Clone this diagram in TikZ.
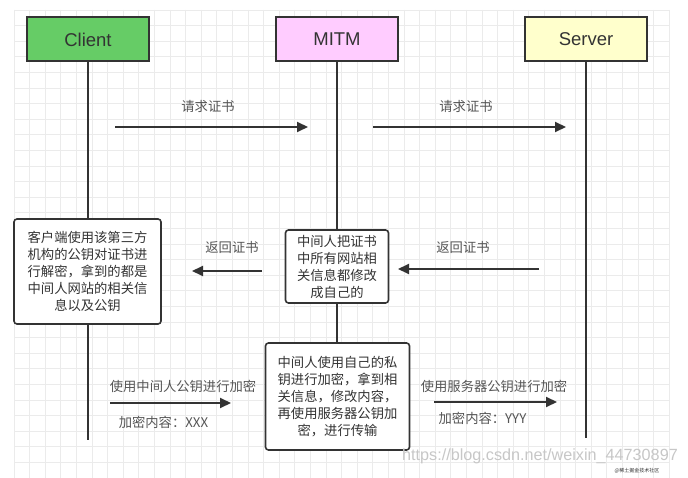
\documentclass[tikz,border=0pt]{standalone}
\usepackage{fontspec}
\setmainfont{Liberation Sans}
\newfontfamily\cjk{Noto Sans CJK SC}
\usetikzlibrary{arrows.meta}

\definecolor{clientgreen}{HTML}{66CC66}
\definecolor{mitmpink}{HTML}{FFCCFF}
\definecolor{serveryellow}{HTML}{FFFFCC}
\definecolor{ink}{HTML}{333333}
\definecolor{labelgray}{HTML}{555555}
\definecolor{gridgray}{HTML}{EBEBEB}

\tikzset{
  gridline/.style={draw=gridgray, line width=0.7pt},
  actor/.style={draw=ink, line width=2pt, minimum width=122pt, minimum height=44pt,
    inner sep=0pt, text=ink, font=\fontsize{18.5}{20}\selectfont},
  note/.style={draw=ink, line width=1.6pt, rounded corners=3pt, fill=white, align=center,
    inner sep=2pt, text=ink, font=\cjk\fontsize{13.3}{17}\selectfont},
  life/.style={draw=ink, line width=2.4pt},
  msg/.style={draw=ink, line width=2pt, -{Triangle[length=11pt,width=10pt]}},
  lbl/.style={text=labelgray, inner sep=0pt, font=\cjk\fontsize{13.3}{15}\selectfont},
}

\begin{document}
\begin{tikzpicture}[x=1pt,y=-1pt]
  \useasboundingbox[fill=white] (0,0) rectangle (688,478);

  \foreach \i in {0,...,42}
    \draw[gridline] (14+15.6*\i,10) -- (14+15.6*\i,478);
  \foreach \j in {0,...,30}
    \draw[gridline] (14,10+15.6*\j) -- (669,10+15.6*\j);

  \node[actor, fill=clientgreen] (client) at (88,39.5) {Client};
  \node[actor, fill=mitmpink] (mitm) at (337,39.5) {MITM};
  \node[actor, fill=serveryellow] (server) at (586,39.5) {Server};

  \coordinate (client end) at (88,440);
  \coordinate (mitm end) at (337,343);
  \coordinate (server end) at (586,438);

  \draw[life] (client) -- (client end);
  \draw[life] (mitm) -- (mitm end);
  \draw[life] (server) -- (server end);

  \node[note, minimum width=147pt, minimum height=105pt] (decrypt) at (87.5,271.5)
    {客户端使用该第三方\\机构的公钥对证书进\\行解密，拿到的都是\\中间人网站的相关信\\息以及公钥};
  \node[note, minimum width=103pt, minimum height=73pt] (swap) at (337,266.5)
    {中间人把证书\\中所有网站相\\关信息都修改\\成自己的};
  \node[note, minimum width=144pt, minimum height=107pt] (reencrypt) at (337.5,396.5)
    {中间人使用自己的私\\钥进行加密，拿到相\\关信息，修改内容，\\再使用服务器公钥加\\密，进行传输};

  \coordinate (req1 from) at (115,127);
  \coordinate (req1 to) at (308,127);
  \coordinate (req2 from) at (373,127);
  \coordinate (req2 to) at (566,127);
  \draw[msg] (req1 from) -- (req1 to);
  \draw[msg] (req2 from) -- (req2 to);
  \node[lbl] (req1 label) at (208,106) {请求证书};
  \node[lbl] (req2 label) at (466,106) {请求证书};

  \coordinate (ret1 from) at (262,271);
  \coordinate (ret1 to) at (192,271);
  \coordinate (ret2 from) at (539,269);
  \coordinate (ret2 to) at (398,269);
  \draw[msg] (ret1 from) -- (ret1 to);
  \draw[msg] (ret2 from) -- (ret2 to);
  \node[lbl] (ret1 label) at (232,247) {返回证书};
  \node[lbl] (ret2 label) at (463,247) {返回证书};

  \coordinate (enc1 from) at (110,403);
  \coordinate (enc1 to) at (231,403);
  \coordinate (enc2 from) at (434,402);
  \coordinate (enc2 to) at (557,402);
  \draw[msg] (enc1 from) -- (enc1 to);
  \draw[msg] (enc2 from) -- (enc2 to);
  \node[lbl] (enc1 label) at (183,386) {使用中间人公钥进行加密};
  \node[lbl] (enc1 data) at (163.5,422) {加密内容：XXX};
  \node[lbl] (enc2 label) at (494,386) {使用服务器公钥进行加密};
  \node[lbl] (enc2 data) at (482.5,418) {加密内容：YYY};

  \node[text=black!22, font=\fontsize{16.2}{16}\selectfont, anchor=west, inner sep=0pt]
    (watermark) at (402,456) {https://blog.csdn.net/weixin\_44730897};
  \node[text=ink, font=\cjk\fontsize{5}{5}\selectfont, inner sep=0pt]
    (stamp) at (637,470.5) {@稀土掘金技术社区};
\end{tikzpicture}
\end{document}
